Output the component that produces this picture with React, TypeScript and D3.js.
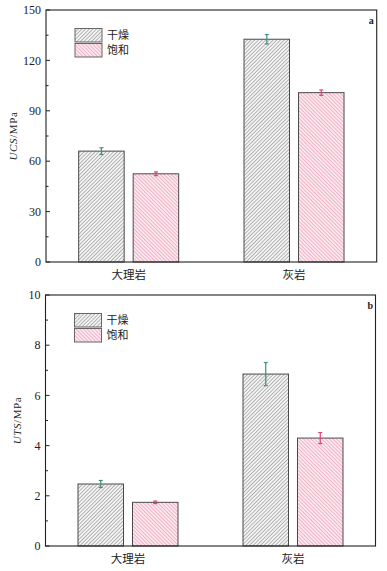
import React from "react";
import * as d3 from "d3";

const categories = ["大理岩", "灰岩"];
const seriesNames = ["干燥", "饱和"];
const ucsValues = [[66, 52.5], [132.6, 100.8]];
const ucsErrors = [[2, 1.1], [2.8, 1.6]];
const utsValues = [[2.47, 1.74], [6.85, 4.3]];
const utsErrors = [[0.14, 0.05], [0.46, 0.22]];
const ucsTicks = [0, 30, 60, 90, 120, 150];
const utsTicks = [0, 2, 4, 6, 8, 10];

const serif = "'Liberation Serif', 'DejaVu Serif', serif";
const cjk = "'Noto Sans CJK SC', sans-serif";
const errColors = ["#3f8e7e", "#e0407a"];
const fills = ["url(#hatchDry)", "url(#hatchSat)"];

type PanelProps = {
  left: number; top: number; right: number; bottom: number;
  values: number[][]; errors: number[][]; ticks: number[]; minorStep: number;
  yMax: number; labelMain: string; tag: string; labelX: number;
};

function Panel(p: PanelProps) {
  const y = d3.scaleLinear().domain([0, p.yMax]).range([p.bottom, p.top]);
  const x = d3.scalePoint<string>().domain(categories).range([p.left, p.right]).padding(0.5);
  const inner = d3.scaleBand<string>().domain(seriesNames).range([-50, 50]).paddingInner(0.165);
  const minor = d3.range(0, p.yMax + 1e-9, p.minorStep).filter((v) => !p.ticks.some((t) => Math.abs(t - v) < 1e-9));
  const midY = (p.top + p.bottom) / 2;
  return (
    <g>
      {categories.map((c, ci) =>
        seriesNames.map((s, si) => {
          const x0 = (x(c) as number) + (inner(s) as number);
          const w = inner.bandwidth();
          const v = p.values[ci][si];
          const e = p.errors[ci][si];
          const cx = x0 + w / 2;
          return (
            <g key={c + s}>
              <rect x={x0} y={y(v)} width={w} height={p.bottom - y(v)} fill={fills[si]} stroke="#4a4a4a" strokeWidth={1} />
              <line x1={cx} x2={cx} y1={y(v + e)} y2={y(v - e)} stroke={errColors[si]} strokeWidth={1.2} />
              <line x1={cx - 2} x2={cx + 2} y1={y(v + e)} y2={y(v + e)} stroke={errColors[si]} strokeWidth={1.2} />
              <line x1={cx - 2} x2={cx + 2} y1={y(v - e)} y2={y(v - e)} stroke={errColors[si]} strokeWidth={1.2} />
            </g>
          );
        })
      )}
      <rect x={p.left} y={p.top} width={p.right - p.left} height={p.bottom - p.top} fill="none" stroke="#222" strokeWidth={1.1} />
      {p.ticks.map((t) => (
        <g key={t}>
          <line x1={p.left} x2={p.left + 4} y1={y(t)} y2={y(t)} stroke="#222" strokeWidth={1} />
          <text x={p.left - 5} y={y(t)} dy="0.35em" textAnchor="end" fontFamily={serif} fontSize={12} fill="#222">{t}</text>
        </g>
      ))}
      {minor.map((t) => (
        <line key={"m" + t} x1={p.left} x2={p.left + 2.5} y1={y(t)} y2={y(t)} stroke="#222" strokeWidth={1} />
      ))}
      {categories.map((c) => (
        <text key={c} x={x(c)} y={p.bottom + 17} textAnchor="middle" fontFamily={cjk} fontSize={11.5} fill="#222">{c}</text>
      ))}
      <text transform={`translate(${p.labelX},${midY}) rotate(-90)`} textAnchor="middle" fontFamily={serif} fontSize={11} letterSpacing={0.6} fill="#222">
        <tspan fontStyle="italic">{p.labelMain}</tspan>/MPa
      </text>
      <text x={p.right - 8} y={p.top + 14} fontFamily={serif} fontSize={10} fontWeight="bold" fill="#222">{p.tag}</text>
      {seriesNames.map((s, si) => (
        <g key={"lg" + s}>
          <rect x={p.left + 29} y={p.top + 18.5 + si * 15} width={27} height={13.5} fill={fills[si]} stroke="#666" strokeWidth={1} />
          <text x={p.left + 61} y={p.top + 25.5 + si * 15} dy="0.35em" fontFamily={cjk} fontSize={11} fill="#222">{s}</text>
        </g>
      ))}
    </g>
  );
}

export default function App() {
  return (
    <svg width={387} height={571} style={{ position: "absolute", left: 0, top: 0, background: "#fff" }}>
      <defs>
        <pattern id="hatchDry" patternUnits="userSpaceOnUse" width={2.6} height={2.6} patternTransform="rotate(45)">
          <rect width={2.6} height={2.6} fill="#f4f4f4" />
          <line x1={0} y1={0} x2={0} y2={2.6} stroke="#666" strokeWidth={0.9} />
        </pattern>
        <pattern id="hatchSat" patternUnits="userSpaceOnUse" width={2.6} height={2.6} patternTransform="rotate(-45)">
          <rect width={2.6} height={2.6} fill="#fce8ee" />
          <line x1={0} y1={0} x2={0} y2={2.6} stroke="#e47a9a" strokeWidth={0.9} />
        </pattern>
      </defs>
      <Panel left={46} top={10} right={376.7} bottom={262} values={ucsValues} errors={ucsErrors} ticks={ucsTicks} minorStep={15} yMax={150} labelMain="UCS" tag="a" labelX={17} />
      <Panel left={45.5} top={295} right={375.5} bottom={546} values={utsValues} errors={utsErrors} ticks={utsTicks} minorStep={1} yMax={10} labelMain="UTS" tag="b" labelX={21} />
    </svg>
  );
}
